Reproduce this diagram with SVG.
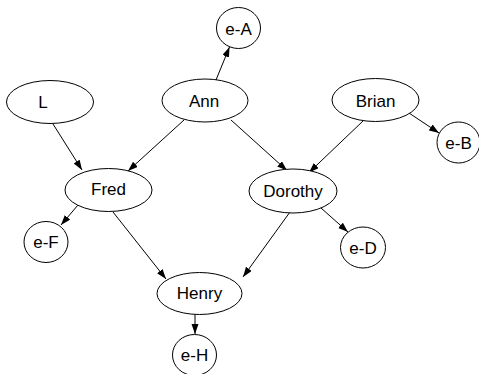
<svg xmlns="http://www.w3.org/2000/svg" width="479" height="374" viewBox="0 0 479 374">
<style>
.n ellipse{fill:#fff;stroke:#000;stroke-width:1}
.n text{font-family:"Liberation Sans",Arial,sans-serif;font-size:17px;fill:#000;text-anchor:middle;dominant-baseline:central}
.e line{stroke:#000;stroke-width:1;marker-end:url(#ah)}
</style>
<defs>
<marker id="ah" markerUnits="userSpaceOnUse" markerWidth="10" markerHeight="8" refX="10" refY="3.5" orient="auto">
<path d="M0,0 L10,3.5 L0,7 z" fill="#000"/>
</marker>
</defs>
<rect width="479" height="374" fill="#fff"/>
<g id="edges" class="e">
<line x1="216" y1="80" x2="229.5" y2="47"/>
<line x1="53" y1="124" x2="82" y2="170"/>
<line x1="184" y1="120" x2="128" y2="171"/>
<line x1="231" y1="120" x2="287" y2="170.5"/>
<line x1="363" y1="121" x2="309" y2="172.5"/>
<line x1="409" y1="113" x2="439" y2="133"/>
<line x1="78" y1="205" x2="61" y2="225"/>
<line x1="113" y1="212" x2="166" y2="279"/>
<line x1="290" y1="212" x2="243" y2="277"/>
<line x1="321" y1="208" x2="348" y2="232"/>
<line x1="195" y1="314" x2="195" y2="334"/>
</g>
<g id="node-eA" class="n"><ellipse cx="238.5" cy="28" rx="22" ry="20.5"/><text x="238.5" y="29">e-A</text></g>
<g id="node-L" class="n"><ellipse cx="50" cy="102" rx="43.5" ry="21.5"/><text x="43" y="102">L</text></g>
<g id="node-Ann" class="n"><ellipse cx="205" cy="100.5" rx="43" ry="21.5"/><text x="204" y="101">Ann</text></g>
<g id="node-Brian" class="n"><ellipse cx="375.5" cy="100" rx="43.5" ry="21.5"/><text x="375.5" y="101">Brian</text></g>
<g id="node-eB" class="n"><ellipse cx="458.5" cy="142.5" rx="21.5" ry="20.5"/><text x="458.5" y="143">e-B</text></g>
<g id="node-Fred" class="n"><ellipse cx="108.5" cy="190" rx="43.5" ry="21.5"/><text x="108.5" y="189.5">Fred</text></g>
<g id="node-Dorothy" class="n"><ellipse cx="293" cy="191" rx="44" ry="22"/><text x="293" y="191">Dorothy</text></g>
<g id="node-eF" class="n"><ellipse cx="46" cy="242" rx="22" ry="20.5"/><text x="46" y="242">e-F</text></g>
<g id="node-eD" class="n"><ellipse cx="363" cy="247.5" rx="22.5" ry="20.5"/><text x="363" y="248">e-D</text></g>
<g id="node-Henry" class="n"><ellipse cx="199.5" cy="293.5" rx="42.5" ry="21"/><text x="199.5" y="293">Henry</text></g>
<g id="node-eH" class="n"><ellipse cx="194.5" cy="355" rx="22" ry="20.5"/><text x="194.5" y="355">e-H</text></g>
</svg>
